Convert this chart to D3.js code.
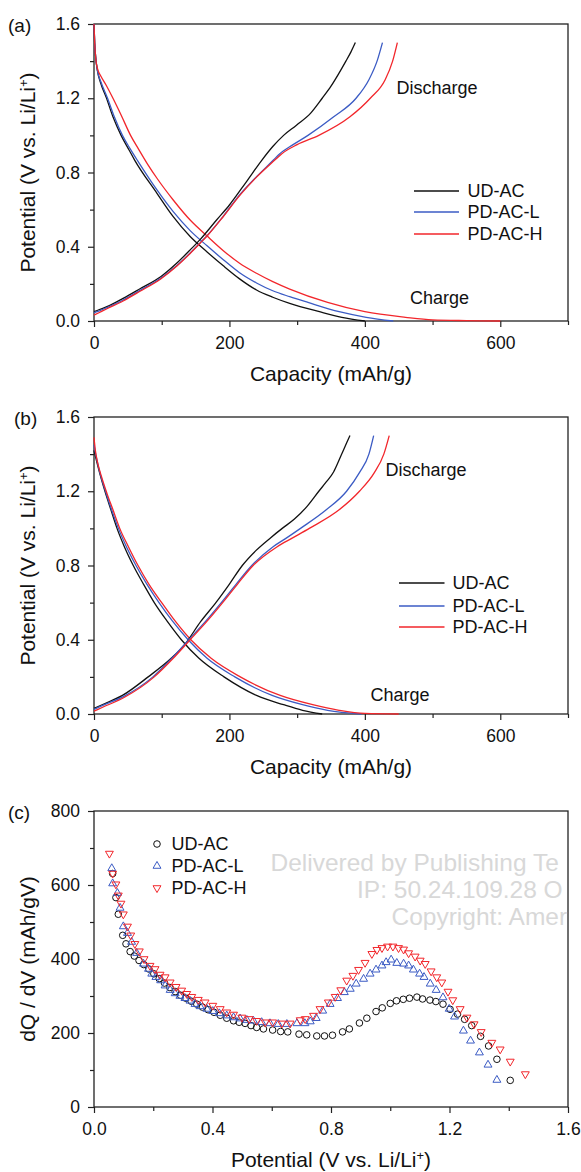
<!DOCTYPE html>
<html>
<head>
<meta charset="utf-8">
<script src="https://cdn.jsdelivr.net/npm/d3@7"></script>
<style>
body { margin: 0; background: #fff; }
svg text { font-family: "Liberation Sans", Arial, Helvetica, sans-serif; fill: #111; }
</style>
</head>
<body>
<div id="viz"></div>
<script>
// ---- data: (a) capacity (mAh/g) vs potential (V)
const aChargeUD = [[0,1.6],[1,1.5],[2.5,1.42],[5,1.35],[10,1.28],[18,1.205],[28,1.1],[40,1.0],[52,0.92],[60,0.867],[93,0.688],[117,0.562],[142,0.455],[167,0.372],[191,0.297],[215,0.227],[240,0.167],[264,0.128],[289,0.095],[333,0.05],[366,0.02],[400,0.0]];
const aChargeL  = [[0,1.6],[1,1.5],[2.5,1.42],[5,1.35],[10,1.29],[20,1.2],[30,1.1],[42,1.0],[53,0.93],[65,0.86],[93,0.706],[117,0.589],[142,0.487],[167,0.405],[191,0.33],[215,0.26],[240,0.205],[264,0.163],[289,0.131],[316,0.1],[362,0.05],[402,0.02],[442,0.0]];
const aChargeH  = [[0,1.6],[1,1.5],[3,1.4],[6,1.35],[10,1.32],[18,1.27],[28,1.2],[40,1.11],[54,1.0],[66,0.925],[80,0.84],[93,0.769],[117,0.652],[142,0.544],[167,0.458],[191,0.379],[215,0.311],[240,0.257],[264,0.212],[289,0.172],[345,0.1],[400,0.05],[460,0.02],[500,0.006],[550,0.002],[600,0.0]];
const aDischUD  = [[0,0.05],[8,0.062],[19,0.077],[43,0.122],[68,0.174],[99,0.24],[122,0.311],[142,0.383],[157,0.44],[181,0.544],[200,0.625],[225,0.75],[248,0.867],[264,0.94],[280,1.0],[299,1.055],[320,1.12],[337,1.2],[350,1.265],[361,1.33],[372,1.4],[379.5,1.45],[386,1.5]];
const aDischL   = [[0,0.045],[8,0.055],[19,0.072],[43,0.113],[68,0.165],[99,0.232],[122,0.298],[142,0.366],[157,0.422],[167,0.46],[191,0.565],[215,0.679],[240,0.777],[265,0.867],[274,0.9],[294,0.95],[316,1.0],[354,1.1],[387,1.2],[406,1.3],[418,1.4],[426,1.5]];
const aDischH   = [[0,0.032],[8,0.046],[19,0.066],[43,0.108],[68,0.16],[99,0.228],[122,0.295],[142,0.364],[157,0.42],[167,0.458],[191,0.563],[215,0.675],[240,0.775],[267,0.867],[277,0.9],[300,0.95],[332,1.0],[378,1.1],[408,1.2],[430,1.3],[441,1.4],[448,1.5]];

// ---- data: (b)
const bChargeUD = [[0,1.42],[4,1.36],[9,1.29],[17,1.19],[25,1.1],[34,1.0],[45,0.9],[58,0.8],[73,0.7],[89,0.6],[108,0.5],[129,0.4],[155,0.3],[192,0.2],[240,0.1],[280,0.05],[308,0.02],[337,0.0]];
const bChargeL  = [[0,1.45],[3,1.39],[8,1.31],[17,1.2],[26,1.1],[36,1.0],[48,0.9],[62,0.8],[78,0.7],[96,0.6],[116,0.5],[139,0.4],[167,0.3],[208,0.2],[263,0.1],[308,0.05],[345,0.02],[395,0.0]];
const bChargeH  = [[0,1.49],[2,1.42],[5,1.36],[11,1.28],[19,1.19],[28,1.1],[38,1.0],[51,0.9],[65,0.8],[81,0.7],[100,0.6],[120,0.5],[143,0.4],[173,0.3],[216,0.2],[275,0.1],[323,0.05],[362,0.02],[400,0.003],[450,0.0]];
const bDischUD  = [[0,0.03],[12,0.05],[42,0.1],[80,0.2],[114,0.3],[133,0.37],[158,0.5],[180,0.6],[200,0.7],[219,0.8],[239,0.88],[261,0.95],[278,1.0],[296,1.05],[315,1.12],[332,1.2],[343,1.25],[354,1.305],[361,1.36],[367,1.41],[373,1.46],[378,1.5]];
const bDischL   = [[0,0.025],[12,0.045],[44,0.095],[87,0.2],[115,0.3],[140,0.4],[165,0.5],[188,0.6],[210,0.7],[233,0.8],[264,0.9],[285,0.95],[305,1.0],[343,1.1],[373,1.2],[392,1.3],[406,1.4],[413,1.5]];
const bDischH   = [[0,0.015],[12,0.035],[45,0.09],[89,0.2],[117,0.3],[142,0.4],[167,0.5],[190,0.6],[212,0.7],[235,0.8],[270,0.9],[294,0.95],[318,1.0],[362,1.1],[392,1.2],[414,1.3],[428,1.4],[436,1.5]];

// ---- data: (c) dQ/dV (mAh/gV) vs potential (V)
const cUD = [[0.063,631],[0.074,566],[0.082,521],[0.097,464],[0.108,441],[0.122,420],[0.136,408],[0.152,396],[0.168,385],[0.185,373],[0.202,360],[0.22,347],[0.238,335],[0.256,323],[0.274,312],[0.292,302],[0.31,294],[0.328,286],[0.347,278],[0.366,270],[0.385,263],[0.405,256],[0.426,248],[0.448,240],[0.471,233],[0.49,229],[0.51,226],[0.53,220],[0.549,215],[0.572,211],[0.603,208],[0.63,204],[0.654,203],[0.692,197],[0.718,195],[0.752,192],[0.778,192],[0.805,194],[0.839,203],[0.862,211],[0.896,227],[0.921,240],[0.952,258],[0.973,268],[1.0,280],[1.021,287],[1.044,291],[1.065,294],[1.09,297],[1.109,292],[1.134,289],[1.154,285],[1.178,278],[1.202,264],[1.227,251],[1.251,237],[1.275,220],[1.305,191],[1.332,165],[1.36,129],[1.405,72]];
const cL = [[0.06,645],[0.063,604],[0.079,578],[0.088,538],[0.099,488],[0.113,470],[0.127,446],[0.144,416],[0.167,387],[0.184,373],[0.195,360],[0.209,351],[0.225,342],[0.24,328],[0.257,316],[0.274,307],[0.29,300],[0.307,294],[0.324,287],[0.341,278],[0.358,272],[0.381,265],[0.401,259],[0.423,253],[0.448,247],[0.471,242],[0.493,239],[0.516,235],[0.538,233],[0.566,229],[0.594,226],[0.622,224],[0.651,224],[0.685,226],[0.712,226],[0.73,231],[0.75,240],[0.772,260],[0.797,278],[0.822,294],[0.845,310],[0.865,319],[0.885,333],[0.91,346],[0.932,360],[0.952,371],[0.972,382],[0.986,391],[1.003,398],[1.022,389],[1.045,387],[1.062,382],[1.078,371],[1.099,360],[1.114,351],[1.135,333],[1.155,316],[1.178,296],[1.199,265],[1.217,244],[1.247,206],[1.271,179],[1.301,147],[1.33,114],[1.36,73]];
const cH = [[0.052,685],[0.063,631],[0.074,602],[0.082,572],[0.091,550],[0.099,521],[0.113,488],[0.124,464],[0.138,441],[0.153,421],[0.169,400],[0.189,382],[0.206,373],[0.223,358],[0.24,351],[0.257,337],[0.277,325],[0.296,315],[0.313,306],[0.33,298],[0.352,290],[0.375,283],[0.401,274],[0.426,265],[0.448,256],[0.471,250],[0.499,242],[0.524,238],[0.549,233],[0.578,229],[0.603,229],[0.634,226],[0.662,226],[0.696,235],[0.713,238],[0.741,247],[0.763,265],[0.791,283],[0.814,298],[0.833,316],[0.853,342],[0.874,355],[0.893,371],[0.915,390],[0.938,414],[0.955,425],[0.972,430],[0.991,434],[1.009,434],[1.028,430],[1.045,426],[1.062,416],[1.084,407],[1.101,396],[1.118,387],[1.138,367],[1.157,351],[1.174,337],[1.195,312],[1.211,289],[1.236,265],[1.259,242],[1.283,224],[1.307,203],[1.343,174],[1.371,156],[1.405,123],[1.456,89]];

const seriesNames = ["UD-AC", "PD-AC-L", "PD-AC-H"];
const seriesColors = ["#111111", "#3b5bc4", "#f2262b"];

const capTicks = [0, 200, 400, 600];
const capMinor = [100, 300, 500, 700];
const volTicks = [0, 0.4, 0.8, 1.2, 1.6];
const volMinor = [0.2, 0.6, 1.0, 1.4];
const dqdvTicks = [0, 200, 400, 600, 800];
const dqdvMinor = [100, 300, 500, 700];

const watermark = ["Delivered by Publishing Te", "IP: 50.24.109.28 O", "Copyright: Amer"];

// ---- layout
const width = 581, height = 1172;
const left = 94, right = 568;

const svg = d3.select("#viz").append("svg")
    .attr("width", width)
    .attr("height", height);

function addTitle(sel, text, sup) {
    sel.append("tspan").text(text);
    if (sup) {
        sel.append("tspan").attr("baseline-shift", "super").style("font-size", "13px").text("+");
        sel.append("tspan").text(")");
    }
}

function drawPanel(p) {
    const x = d3.scaleLinear().domain(p.xDomain).range([left, right]);
    const y = d3.scaleLinear().domain(p.yDomain).range([p.bottom, p.top]);
    const g = svg.append("g");

    g.append("g")
        .attr("transform", `translate(0,${p.bottom})`)
        .call(d3.axisBottom(x).tickValues(p.xMinor).tickSize(4).tickFormat(""))
        .call(s => s.select(".domain").remove());
    g.append("g")
        .attr("transform", `translate(${left},0)`)
        .call(d3.axisLeft(y).tickValues(p.yMinor).tickSize(4).tickFormat(""))
        .call(s => s.select(".domain").remove());

    g.append("g")
        .attr("transform", `translate(0,${p.bottom})`)
        .call(d3.axisBottom(x).tickValues(p.xTicks).tickSize(6).tickPadding(10).tickFormat(p.xFormat))
        .call(s => s.select(".domain").remove());
    g.append("g")
        .attr("transform", `translate(${left},0)`)
        .call(d3.axisLeft(y).tickValues(p.yTicks).tickSize(6).tickPadding(8).tickFormat(p.yFormat))
        .call(s => s.select(".domain").remove());

    g.selectAll(".tick line").attr("stroke", "#222").attr("stroke-width", 1.2);
    g.selectAll(".tick text").style("font-size", "17.5px").attr("fill", "#111");

    g.append("rect")
        .attr("x", left).attr("y", p.top)
        .attr("width", right - left).attr("height", p.bottom - p.top)
        .attr("fill", "none").attr("stroke", "#222").attr("stroke-width", 1.3);

    g.append("text")
        .attr("x", p.labelX).attr("y", p.top + 1)
        .attr("dy", "0.35em")
        .style("font-size", "19px")
        .text(p.label);

    addTitle(g.append("text")
        .attr("x", (left + right) / 2).attr("y", p.bottom + 53)
        .attr("dy", "0.35em").attr("text-anchor", "middle")
        .style("font-size", "21px"), p.xTitle, p.xSup);

    addTitle(g.append("text")
        .attr("transform", `translate(28,${(p.top + p.bottom) / 2}) rotate(-90)`)
        .attr("dy", "0.35em").attr("text-anchor", "middle")
        .style("font-size", "21px"), p.yTitle, p.ySup);

    return { x, y, g };
}

function drawCurves(panel, charge, disch) {
    const line = d3.line()
        .x(d => panel.x(d[0]))
        .y(d => panel.y(d[1]))
        .curve(d3.curveMonotoneX);
    const all = [];
    charge.forEach((c, i) => all.push({ d: c, i }));
    disch.forEach((c, i) => all.push({ d: c, i }));
    panel.g.selectAll(".curve")
        .data(all)
        .join("path")
            .attr("class", "curve")
            .attr("fill", "none")
            .attr("stroke", d => seriesColors[d.i])
            .attr("stroke-width", 1.3)
            .attr("d", d => line(d.d));
}

function drawLegendLines(panel, lx, tx, ys) {
    panel.g.selectAll(".leg-line")
        .data(seriesNames)
        .join("line")
            .attr("class", "leg-line")
            .attr("x1", lx[0]).attr("x2", lx[1])
            .attr("y1", (d, i) => ys[i]).attr("y2", (d, i) => ys[i])
            .attr("stroke", (d, i) => seriesColors[i])
            .attr("stroke-width", 1.3);
    panel.g.selectAll(".leg-text")
        .data(seriesNames)
        .join("text")
            .attr("class", "leg-text")
            .attr("x", tx).attr("y", (d, i) => ys[i])
            .attr("dy", "0.35em")
            .style("font-size", "18px")
            .text(d => d);
}

function note(panel, text, x, y) {
    panel.g.append("text")
        .attr("x", x).attr("y", y)
        .attr("dy", "0.35em")
        .style("font-size", "18px")
        .text(text);
}

// ---- (a)
const pa = drawPanel({
    top: 24, bottom: 321, xDomain: [0, 700], yDomain: [0, 1.6],
    xTicks: capTicks, xMinor: capMinor, yTicks: volTicks, yMinor: volMinor,
    xFormat: d3.format("d"), yFormat: d3.format(".1f"),
    label: "(a)", labelX: 8,
    xTitle: "Capacity (mAh/g)", yTitle: "Potential (V vs. Li/Li", ySup: true
});
drawCurves(pa, [aChargeUD, aChargeL, aChargeH], [aDischUD, aDischL, aDischH]);
drawLegendLines(pa, [414, 459], 467.5, [191, 212, 234]);
note(pa, "Discharge", 396.5, 88);
note(pa, "Charge", 410, 298);

// ---- (b)
const pb = drawPanel({
    top: 417, bottom: 714, xDomain: [0, 700], yDomain: [0, 1.6],
    xTicks: capTicks, xMinor: capMinor, yTicks: volTicks, yMinor: volMinor,
    xFormat: d3.format("d"), yFormat: d3.format(".1f"),
    label: "(b)", labelX: 14,
    xTitle: "Capacity (mAh/g)", yTitle: "Potential (V vs. Li/Li", ySup: true
});
drawCurves(pb, [bChargeUD, bChargeL, bChargeH], [bDischUD, bDischL, bDischH]);
drawLegendLines(pb, [399, 444.5], 452.5, [583, 606, 627]);
note(pb, "Discharge", 385.5, 470);
note(pb, "Charge", 370.5, 695);

// ---- (c)
const pc = drawPanel({
    top: 811, bottom: 1107, xDomain: [0, 1.6], yDomain: [0, 800],
    xTicks: volTicks, xMinor: volMinor, yTicks: dqdvTicks, yMinor: dqdvMinor,
    xFormat: d3.format(".1f"), yFormat: d3.format("d"),
    label: "(c)", labelX: 8,
    xTitle: "Potential (V vs. Li/Li", xSup: true, yTitle: "dQ / dV (mAh/gV)"
});

pc.g.selectAll(".wm")
    .data(watermark)
    .join("text")
        .attr("class", "wm")
        .attr("x", (d, i) => [270.5, 357, 391.5][i])
        .attr("y", (d, i) => 862 + i * 27)
        .attr("dy", "0.35em")
        .style("font-size", "24.5px")
        .style("fill", "#d8d8d8")
        .text(d => d);

const triUp = d3.symbol(d3.symbolTriangle, 27);

pc.g.selectAll(".m-ud")
    .data(cUD)
    .join("circle")
        .attr("class", "m-ud")
        .attr("cx", d => pc.x(d[0])).attr("cy", d => pc.y(d[1]))
        .attr("r", 3.3)
        .attr("fill", "none").attr("stroke", seriesColors[0]).attr("stroke-width", 1);

pc.g.selectAll(".m-l")
    .data(cL)
    .join("path")
        .attr("class", "m-l")
        .attr("transform", d => `translate(${pc.x(d[0])},${pc.y(d[1])})`)
        .attr("d", triUp)
        .attr("fill", "none").attr("stroke", seriesColors[1]).attr("stroke-width", 1);

pc.g.selectAll(".m-h")
    .data(cH)
    .join("path")
        .attr("class", "m-h")
        .attr("transform", d => `translate(${pc.x(d[0])},${pc.y(d[1])}) rotate(180)`)
        .attr("d", triUp)
        .attr("fill", "none").attr("stroke", seriesColors[2]).attr("stroke-width", 1);

// legend (c)
const legY = [844, 866, 888];
pc.g.append("circle")
    .attr("cx", 157).attr("cy", legY[0]).attr("r", 3.3)
    .attr("fill", "none").attr("stroke", seriesColors[0]).attr("stroke-width", 1);
pc.g.append("path")
    .attr("transform", `translate(157,${legY[1]})`)
    .attr("d", triUp)
    .attr("fill", "none").attr("stroke", seriesColors[1]).attr("stroke-width", 1);
pc.g.append("path")
    .attr("transform", `translate(157,${legY[2]}) rotate(180)`)
    .attr("d", triUp)
    .attr("fill", "none").attr("stroke", seriesColors[2]).attr("stroke-width", 1);
pc.g.selectAll(".leg-text")
    .data(seriesNames)
    .join("text")
        .attr("class", "leg-text")
        .attr("x", 171.5).attr("y", (d, i) => legY[i])
        .attr("dy", "0.35em")
        .style("font-size", "18px")
        .text(d => d);
</script>
</body>
</html>
